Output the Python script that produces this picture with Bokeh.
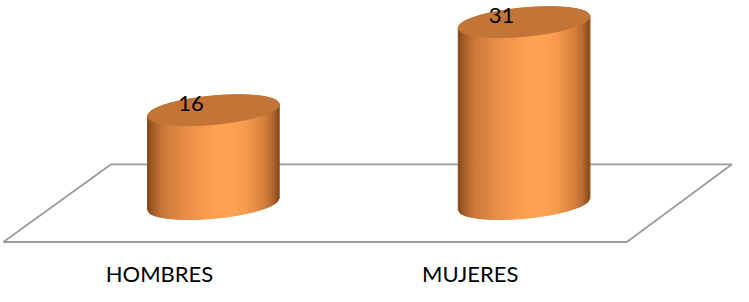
import numpy as np
from bokeh.plotting import figure
from bokeh.models import Range1d, ColumnDataSource
from bokeh.core.properties import value
from bokeh.embed import file_html
from bokeh.resources import INLINE

# ---------------- data ----------------
categories = ["HOMBRES", "MUJERES"]
values = [16, 31]
value_labels = ["16", "31"]

# ---------------- layout constants (pixels) ----------------
W, H = 733, 286          # figure size
PXX = 310.7              # px per category step
PXY = 5.87               # px per value unit
X0_PX = 212.9            # px from frame left to first category centre
Y0_PX = 203.6            # px from frame top to value 0 (base of cylinders)

RA, RB, TILT = 66.1, 14.2, np.radians(5.3)   # cylinder ellipse (px)

x_range = Range1d(-X0_PX / PXX, (W - X0_PX) / PXX)
y_range = Range1d(-(H - Y0_PX) / PXY, Y0_PX / PXY)

def fx(px):  # frame px -> data x
    return (px - X0_PX) / PXX

def fy(py):  # frame px -> data y
    return (Y0_PX - py) / PXY

p = figure(width=W, height=H, x_range=x_range, y_range=y_range,
           output_backend="svg", toolbar_location=None, min_border=0,
           x_axis_type=None, y_axis_type=None)
p.grid.visible = False
p.outline_line_color = None
p.background_fill_color = "white"
p.border_fill_color = "white"

# ---------------- floor ----------------
floor_px = [(110.6, 163.8), (731.5, 163.8), (626.3, 241.5), (2.9, 241.5)]
p.patch([fx(a) for a, _ in floor_px], [fy(b) for _, b in floor_px],
        fill_color=None, line_color="#9C9C9C", line_width=1.8)

# ---------------- cylinders ----------------
stops = [(0.00, "#7F4519"), (0.04, "#A35A26"), (0.12, "#C9773A"),
         (0.30, "#E98E48"), (0.50, "#FC9F50"), (0.62, "#FFA453"),
         (0.75, "#F59A4D"), (0.88, "#D9823E"), (0.95, "#B56A30"),
         (1.00, "#86491C")]

def hex2rgb(h):
    return np.array([int(h[i:i + 2], 16) for i in (1, 3, 5)], dtype=float)

def grad(s):
    for (s0, c0), (s1, c1) in zip(stops[:-1], stops[1:]):
        if s <= s1:
            t = (s - s0) / (s1 - s0) if s1 > s0 else 0
            c = hex2rgb(c0) * (1 - t) + hex2rgb(c1) * t
            return "#%02x%02x%02x" % tuple(int(round(v)) for v in c)
    return stops[-1][1]

def ellipse_bounds(u, a, b, th):
    c, s = np.cos(th), np.sin(th)
    A = s * s / a ** 2 + c * c / b ** 2
    B = 2 * u * c * s * (1 / a ** 2 - 1 / b ** 2)
    C = u * u * (c * c / a ** 2 + s * s / b ** 2) - 1
    d = np.sqrt(np.maximum(B * B - 4 * A * C, 0))
    return (-B - d) / (2 * A), (-B + d) / (2 * A)

N = 60
wext = np.sqrt((RA * np.cos(TILT)) ** 2 + (RB * np.sin(TILT)) ** 2)
uedges = np.linspace(-wext, wext, N + 1)
low_b, high_t = ellipse_bounds(uedges, RA, RB, TILT)

sx, sy, sc = [], [], []
tx, ty = [], []
tt = np.linspace(0, 2 * np.pi, 160)
edx = RA * np.cos(tt) * np.cos(TILT) - RB * np.sin(tt) * np.sin(TILT)
edy = RA * np.cos(tt) * np.sin(TILT) + RB * np.sin(tt) * np.cos(TILT)

for i, v in enumerate(values):
    cx = float(i)
    for k in range(N):
        u0, u1 = uedges[k], uedges[k + 1]
        sx.append([cx + u0 / PXX, cx + u1 / PXX, cx + u1 / PXX, cx + u0 / PXX])
        sy.append([low_b[k] / PXY, low_b[k + 1] / PXY,
                   v + high_t[k + 1] / PXY, v + high_t[k] / PXY])
        sc.append(grad((k + 0.5) / N))
    tx.append(list(cx + edx / PXX))
    ty.append(list(v + edy / PXY))

p.patches(xs="xs", ys="ys", fill_color="c", line_color="c", line_width=1,
          source=ColumnDataSource(dict(xs=sx, ys=sy, c=sc)))
p.patches(tx, ty, fill_color="#C27536", line_color="#C27536", line_width=1)

# ---------------- labels ----------------
vl_src = ColumnDataSource(dict(
    x=[i - 22.5 / PXX for i in range(len(values))],
    y=[v + 7.0 / PXY for v in values],
    t=value_labels))
p.text(x="x", y="y", text="t", source=vl_src, text_font=value("Lato"),
       text_font_size="22px", text_align="center", text_baseline="alphabetic",
       text_color="#000000")

cl_src = ColumnDataSource(dict(
    x=[i - 53.9 / PXX for i in range(len(categories))],
    y=[fy(273)] * len(categories),
    t=categories))
p.text(x="x", y="y", text="t", source=cl_src, text_font=value("Lato"),
       text_font_size="22px", text_align="center", text_baseline="alphabetic",
       text_color="#000000")

open("out.html", "w").write(file_html(p, INLINE))
